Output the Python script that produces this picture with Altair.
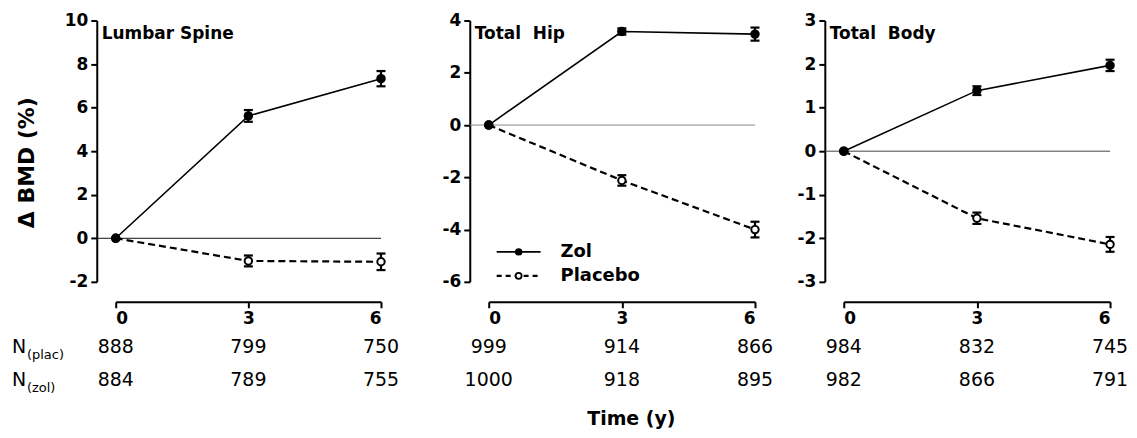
import altair as alt
import pandas as pd

FONT = "DejaVu Sans"

time = [0, 3, 6]

# Lumbar spine
ls_zol = [0.0, 5.62, 7.33]
ls_zol_err = [0.0, 0.27, 0.35]
ls_plac = [0.0, -1.04, -1.08]
ls_plac_err = [0.0, 0.25, 0.38]
ls_n_plac = [888, 799, 750]
ls_n_zol = [884, 789, 755]

# Total hip
th_zol = [0.0, 3.58, 3.48]
th_zol_err = [0.0, 0.12, 0.25]
th_plac = [0.0, -2.12, -4.0]
th_plac_err = [0.0, 0.2, 0.3]
th_n_plac = [999, 914, 866]
th_n_zol = [1000, 918, 895]

# Total body
tb_zol = [0.0, 1.39, 1.97]
tb_zol_err = [0.0, 0.1, 0.13]
tb_plac = [0.0, -1.54, -2.14]
tb_plac_err = [0.0, 0.13, 0.17]
tb_n_plac = [984, 832, 745]
tb_n_zol = [982, 866, 791]

panel_titles = ["Lumbar Spine", "Total\u00a0 Hip", "Total\u00a0 Body"]
series_names = ["Zol", "Placebo"]
y_title = "Δ BMD (%)"
x_title = "Time (y)"

H = 262
LABEL_EXPR = "'' + datum.value"


def make_df(zol, zol_e, plac, plac_e):
    rows = []
    for t, v, e in zip(time, zol, zol_e):
        rows.append({"time": t, "value": v, "lo": v - e, "hi": v + e, "series": "Zol"})
    for t, v, e in zip(time, plac, plac_e):
        rows.append({"time": t, "value": v, "lo": v - e, "hi": v + e, "series": "Placebo"})
    return pd.DataFrame(rows)


def panel(title, zol, zol_e, plac, plac_e, n_p, n_z, ydom, yvals, width, xr,
          zero_color, first=False, legend=False, xlabel=False):
    df = make_df(zol, zol_e, plac, plac_e)
    ndf = pd.DataFrame({"time": time, "n_plac": n_p, "n_zol": n_z})
    xs = alt.Scale(domain=[0, 6], range=[0, xr], nice=False, zero=False)
    xa = alt.Axis(values=[0, 3, 6], offset=20, title=None, labelExpr=LABEL_EXPR)
    ys = alt.Scale(domain=ydom, nice=False, zero=False)
    if first:
        ya = alt.Axis(values=yvals, offset=19, title=y_title, titleFontSize=22,
                      titleFontWeight="bold", titlePadding=26, titleY=142,
                      titleColor="black", labelExpr=LABEL_EXPR)
    else:
        ya = alt.Axis(values=yvals, offset=19, title=None, labelExpr=LABEL_EXPR)

    X = alt.X("time:Q", scale=xs, axis=xa)

    def Y(f):
        return alt.Y(f + ":Q", scale=ys, axis=ya)

    base = alt.Chart(df)
    zero = alt.Chart(pd.DataFrame({"v": [0]})).mark_rule(
        color=zero_color, strokeWidth=1).encode(
        x=alt.value(-19), x2=alt.value(xr), y=alt.Y("v:Q", scale=ys, axis=ya))

    line_z = base.transform_filter(alt.datum.series == "Zol").mark_line(
        color="black", strokeWidth=1.6).encode(x=X, y=Y("value"))
    line_p = base.transform_filter(alt.datum.series == "Placebo").mark_line(
        color="black", strokeWidth=2.2, strokeDash=[7, 4]).encode(x=X, y=Y("value"))

    eb = base.transform_filter(alt.datum.time > 0)
    err = eb.mark_rule(color="black", strokeWidth=2.2).encode(x=X, y=Y("lo"), y2="hi:Q")
    cap_lo = eb.mark_tick(color="black", orient="horizontal", size=9, thickness=2.2,
                          opacity=1).encode(x=X, y=Y("lo"))
    cap_hi = eb.mark_tick(color="black", orient="horizontal", size=9, thickness=2.2,
                          opacity=1).encode(x=X, y=Y("hi"))

    pts_p = base.transform_filter(alt.datum.series == "Placebo").mark_point(
        shape="circle", fill="white", stroke="black", strokeWidth=2, size=55,
        opacity=1, filled=False).encode(x=X, y=Y("value"))
    pts_z = base.transform_filter(alt.datum.series == "Zol").mark_circle(
        color="black", size=90, opacity=1).encode(x=X, y=Y("value"))

    ttl = alt.Chart(pd.DataFrame({"t": [title]})).mark_text(
        align="left", baseline="middle", fontSize=17, fontWeight="bold",
        color="black", font=FONT).encode(x=alt.value(-14), y=alt.value(14), text="t:N")

    nt = alt.Chart(ndf)
    n1 = nt.mark_text(align="center", baseline="alphabetic", fontSize=19,
                      color="black", font=FONT).encode(
        x=X, y=alt.value(333), text="n_plac:N")
    n2 = nt.mark_text(align="center", baseline="alphabetic", fontSize=19,
                      color="black", font=FONT).encode(
        x=X, y=alt.value(366), text="n_zol:N")

    layers = [zero, line_p, line_z, err, cap_lo, cap_hi, pts_p, pts_z, ttl, n1, n2]

    if first:
        lab = pd.DataFrame({"n": ["N", "N"], "s": ["(plac)", "(zol)"],
                            "yb": [333, 366], "ys": [339, 372]})
        lc = alt.Chart(lab)
        layers.append(lc.mark_text(align="left", baseline="alphabetic", fontSize=19,
                                   color="black", font=FONT).encode(
            x=alt.value(-104), y=alt.Y("yb:Q", scale=None), text="n:N"))
        layers.append(lc.mark_text(align="left", baseline="alphabetic", fontSize=13,
                                   color="black", font=FONT).encode(
            x=alt.value(-89), y=alt.Y("ys:Q", scale=None), text="s:N"))

    if legend:
        leg = pd.DataFrame({"s": series_names, "ly": [232, 256]})
        lg = alt.Chart(leg)
        layers.append(lg.transform_filter(alt.datum.s == "Zol").mark_rule(
            color="black", strokeWidth=1.6).encode(
            x=alt.value(8), x2=alt.value(52), y=alt.Y("ly:Q", scale=None)))
        layers.append(lg.transform_filter(alt.datum.s == "Placebo").mark_rule(
            color="black", strokeWidth=2.2, strokeDash=[5, 4]).encode(
            x=alt.value(8), x2=alt.value(52), y=alt.Y("ly:Q", scale=None)))
        layers.append(lg.transform_filter(alt.datum.s == "Zol").mark_circle(
            color="black", size=55, opacity=1).encode(
            x=alt.value(30), y=alt.Y("ly:Q", scale=None)))
        layers.append(lg.transform_filter(alt.datum.s == "Placebo").mark_point(
            shape="circle", fill="white", stroke="black", strokeWidth=1.8, size=36,
            opacity=1, filled=False).encode(
            x=alt.value(30), y=alt.Y("ly:Q", scale=None)))
        layers.append(lg.mark_text(align="left", baseline="middle", fontSize=18,
                                   fontWeight="bold", color="black", font=FONT).encode(
            x=alt.value(72), y=alt.Y("ly:Q", scale=None), text="s:N"))

    if xlabel:
        layers.append(alt.Chart(pd.DataFrame({"t": [x_title]})).mark_text(
            align="center", baseline="alphabetic", fontSize=19, fontWeight="bold",
            color="black", font=FONT).encode(x=alt.value(143), y=alt.value(406), text="t:N"))

    return alt.layer(*layers).properties(width=width, height=H)


p1 = panel(panel_titles[0], ls_zol, ls_zol_err, ls_plac, ls_plac_err, ls_n_plac, ls_n_zol,
           [-2, 10], [-2, 0, 2, 4, 6, 8, 10], 285, 266, "#111111", first=True)
p2 = panel(panel_titles[1], th_zol, th_zol_err, th_plac, th_plac_err, th_n_plac, th_n_zol,
           [-6, 4], [-6, -4, -2, 0, 2, 4], 267, 267, "#888888", legend=True, xlabel=True)
p3 = panel(panel_titles[2], tb_zol, tb_zol_err, tb_plac, tb_plac_err, tb_n_plac, tb_n_zol,
           [-3, 3], [-3, -2, -1, 0, 1, 2, 3], 267, 267, "#444444")

chart = alt.hconcat(p1, p2, p3, spacing=89, bounds="flush").properties(
    padding={"left": 4, "top": 3, "right": 0, "bottom": 0}
).configure(font=FONT).configure_view(stroke=None).configure_axis(
    grid=False, domainColor="black", domainWidth=2, tickColor="black", tickWidth=2,
    tickSize=6, labelFontSize=17, labelFontWeight="bold", labelColor="black",
    labelFont=FONT, titleFont=FONT, labelPadding=3
).configure_axisX(labelPadding=3)

chart.save("out.html", embed_options={"renderer": "svg", "actions": False})
